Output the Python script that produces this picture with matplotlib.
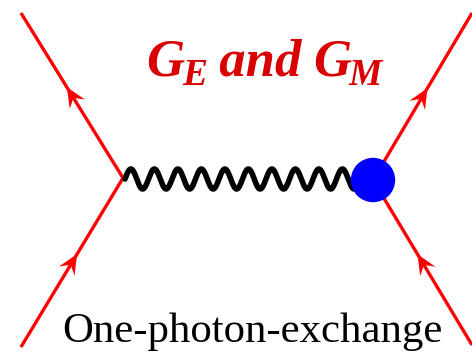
import numpy as np
import matplotlib
matplotlib.use("Agg")
import matplotlib.pyplot as plt
from matplotlib.patches import Polygon, Circle

# Diagram geometry (pixel canvas 472 x 353, y downward)
left_vertex = (123, 178)
right_vertex = (373, 180)
# fermion lines: (start, end) in direction of the arrow
fermion_lines = [
    ((21, 347), left_vertex),      # incoming lower-left
    (left_vertex, (21, 13)),       # outgoing upper-left
    ((472, 345), right_vertex),    # incoming lower-right
    (right_vertex, (472, 13)),     # outgoing upper-right
]
arrow_fraction = 0.55
photon_start_x = 125
photon_end_x = 360
photon_periods = 10
photon_amplitude = 10
blob_radius = 21.5
# title pieces: (text, is_subscript)
title_pieces = [("G", False), ("E", True), (" and ", False), ("G", False), ("M", True)]
caption_text = "One-photon-exchange"

RED = "#ff0000"
TITLE_RED = "#d80000"
fig = plt.figure(figsize=(4.72, 3.53), dpi=100)
ax = fig.add_axes([0, 0, 1, 1])
ax.set_xlim(0, 472)
ax.set_ylim(353, 0)
ax.axis("off")

for (p0, p1) in fermion_lines:
    ax.plot([p0[0], p1[0]], [p0[1], p1[1]], color=RED, lw=2.4,
            solid_capstyle="butt", zorder=2)
    p0a, p1a = np.array(p0, float), np.array(p1, float)
    d = (p1a - p0a) / np.linalg.norm(p1a - p0a)
    n = np.array([-d[1], d[0]])
    tip = p0a + arrow_fraction * (p1a - p0a)
    L, W = 20, 9
    pts = [tip, tip - L * d + W * n, tip - 0.62 * L * d, tip - L * d - W * n]
    ax.add_patch(Polygon(pts, closed=True, color=RED, lw=0, zorder=3))

xs = np.linspace(photon_start_x, photon_end_x, 800)
phase = (xs - photon_start_x) / (photon_end_x - photon_start_x) * photon_periods * 2 * np.pi
ys = 179 - photon_amplitude * np.sin(phase)
ax.plot(xs, ys, color="black", lw=4.0, solid_capstyle="round", zorder=4)

ax.add_patch(Circle(right_vertex, blob_radius, color="#0000ff", zorder=5))

# Title built from pieces in bold italic serif
fig.canvas.draw()
renderer = fig.canvas.get_renderer()
inv = ax.transData.inverted()
x = 146
for txt, sub in title_pieces:
    size = 27 if sub else 38
    y = 85 if sub else 75
    t = ax.text(x, y, txt, color=TITLE_RED, fontsize=size, family="Liberation Serif",
                weight="bold", style="italic", ha="left", va="baseline", zorder=6)
    bb = t.get_window_extent(renderer)
    x0 = inv.transform((bb.x0, 0))[0]
    x1 = inv.transform((bb.x1, 0))[0]
    x = x + (x1 - x0) - (1 if sub else 2)

ax.text(252, 342, caption_text, color="black", fontsize=30.8,
        family="Liberation Serif", ha="center", va="baseline", zorder=6)

fig.savefig("out.png", dpi=100)
